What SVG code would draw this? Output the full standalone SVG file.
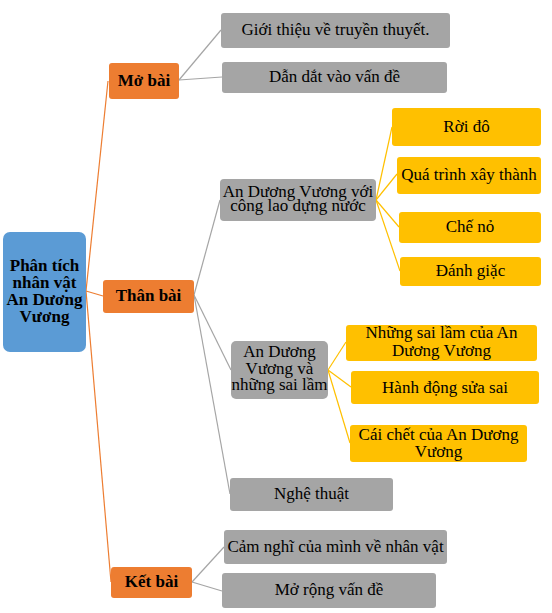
<svg xmlns="http://www.w3.org/2000/svg" width="552" height="613" viewBox="0 0 552 613">
<style>
text{font-family:"Liberation Serif","Times New Roman",serif;font-size:17px;fill:#000;text-anchor:middle}
.b{font-weight:bold}
.root{fill:#5B9BD5}
.sec{fill:#ED7D31}
.g{fill:#A5A5A5}
.y{fill:#FFC000}
.lo{stroke:#ED7D31;stroke-width:1.2;fill:none}
.lg{stroke:#A5A5A5;stroke-width:1.2;fill:none}
.ly{stroke:#FFC000;stroke-width:1.2;fill:none}
</style>
<rect width="552" height="613" fill="#fff"/>
<g id="connectors">
<line class="lo" x1="86" y1="291" x2="108" y2="81"/>
<line class="lo" x1="86" y1="291" x2="103" y2="296"/>
<line class="lo" x1="86" y1="291" x2="111" y2="582"/>
<line class="lg" x1="179" y1="80" x2="221" y2="30"/>
<line class="lg" x1="179" y1="80" x2="222" y2="77"/>
<line class="lg" x1="194" y1="295" x2="220" y2="200"/>
<line class="lg" x1="194" y1="295" x2="231" y2="370"/>
<line class="lg" x1="194" y1="295" x2="230" y2="494"/>
<line class="ly" x1="376" y1="200" x2="392" y2="127"/>
<line class="ly" x1="376" y1="200" x2="397" y2="174"/>
<line class="ly" x1="376" y1="200" x2="399" y2="227"/>
<line class="ly" x1="376" y1="200" x2="400" y2="271"/>
<line class="ly" x1="328" y1="370" x2="346" y2="342"/>
<line class="ly" x1="328" y1="370" x2="351" y2="387"/>
<line class="ly" x1="328" y1="370" x2="350" y2="443"/>
<line class="lg" x1="192" y1="582" x2="224" y2="547"/>
<line class="lg" x1="192" y1="582" x2="222" y2="591"/>
</g>
<g id="root">
<rect class="root" x="3" y="232" width="83" height="120" rx="7"/>
<text class="b" x="44.5" y="271">Phân tích</text>
<text class="b" x="44.5" y="288">nhân vật</text>
<text class="b" x="44.5" y="305">An Dương</text>
<text class="b" x="44.5" y="322">Vương</text>
</g>
<g id="mo-bai">
<rect class="sec" x="109" y="63" width="70" height="36" rx="3"/>
<text class="b" x="144" y="86">Mở bài</text>
</g>
<g id="than-bai">
<rect class="sec" x="103" y="280" width="91" height="33" rx="3"/>
<text class="b" x="148.5" y="301">Thân bài</text>
</g>
<g id="ket-bai">
<rect class="sec" x="111" y="567" width="81" height="31" rx="3"/>
<text class="b" x="151.5" y="587">Kết bài</text>
</g>
<g id="gioi-thieu">
<rect class="g" x="221" y="13" width="229" height="35" rx="3"/>
<text x="335.5" y="35">Giới thiệu về truyền thuyết.</text>
</g>
<g id="dan-dat">
<rect class="g" x="222" y="62" width="225" height="31" rx="3"/>
<text x="334.5" y="82">Dẫn dắt vào vấn đề</text>
</g>
<g id="cong-lao">
<rect class="g" x="220" y="179" width="156" height="42" rx="4"/>
<text x="298" y="197">An Dương Vương với</text>
<text x="298" y="211">công lao dựng nước</text>
</g>
<g id="sai-lam">
<rect class="g" x="231" y="341" width="97" height="58" rx="5"/>
<text x="279.5" y="357">An Dương</text>
<text x="279.5" y="374">Vương và</text>
<text x="279.5" y="390">những sai lầm</text>
</g>
<g id="nghe-thuat">
<rect class="g" x="230" y="478" width="163" height="33" rx="3"/>
<text x="311.5" y="499">Nghệ thuật</text>
</g>
<g id="roi-do">
<rect class="y" x="392" y="108" width="149" height="38" rx="3"/>
<text x="466.5" y="132">Rời đô</text>
</g>
<g id="xay-thanh">
<rect class="y" x="397" y="157" width="144" height="37" rx="3"/>
<text x="469" y="180">Quá trình xây thành</text>
</g>
<g id="che-no">
<rect class="y" x="399" y="212" width="142" height="31" rx="3"/>
<text x="470" y="232">Chế nỏ</text>
</g>
<g id="danh-giac">
<rect class="y" x="400" y="257" width="141" height="29" rx="3"/>
<text x="470.5" y="276">Đánh giặc</text>
</g>
<g id="nhung-sai-lam">
<rect class="y" x="346" y="325" width="191" height="36" rx="3"/>
<text x="441.5" y="338">Những sai lầm của An</text>
<text x="441.5" y="356">Dương Vương</text>
</g>
<g id="sua-sai">
<rect class="y" x="351" y="371" width="188" height="33" rx="3"/>
<text x="445" y="393">Hành động sửa sai</text>
</g>
<g id="cai-chet">
<rect class="y" x="350" y="425" width="177" height="37" rx="3"/>
<text x="438.5" y="440">Cái chết của An Dương</text>
<text x="438.5" y="457">Vương</text>
</g>
<g id="cam-nghi">
<rect class="g" x="224" y="530" width="223" height="34" rx="3"/>
<text x="335.5" y="552">Cảm nghĩ của mình về nhân vật</text>
</g>
<g id="mo-rong">
<rect class="g" x="222" y="573" width="214" height="35" rx="3"/>
<text x="329" y="595">Mở rộng vấn đề</text>
</g>
</svg>
